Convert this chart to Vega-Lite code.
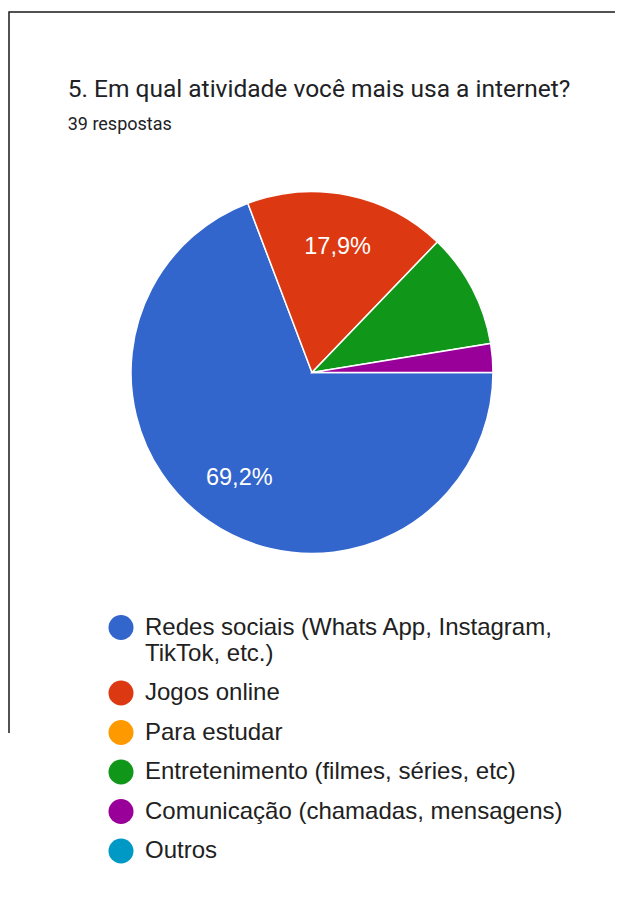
{
  "$schema": "https://vega.github.io/schema/vega-lite/v6.json",
  "width": 606,
  "height": 721,
  "autosize": {"type": "none"},
  "padding": {"left": 9, "top": 12, "right": 5, "bottom": 177},
  "background": "white",
  "view": {"stroke": "#1a1a1a", "strokeWidth": 1.5, "strokeDash": [606, 1327, 721]},
  "title": {
    "text": "5. Em qual atividade você mais usa a internet?",
    "subtitle": "39 respostas",
    "anchor": "start",
    "frame": "group",
    "offset": -123,
    "dx": 58.7,
    "font": "Roboto",
    "fontSize": 24.5,
    "fontWeight": "normal",
    "color": "#202124",
    "subtitleFont": "Roboto",
    "subtitleFontSize": 18,
    "subtitleColor": "#202124",
    "subtitlePadding": 14
  },
  "data": {
    "values": [
      {"atividade": "Redes sociais (Whats App, Instagram, TikTok, etc.)", "respostas": 27, "ordem": 1, "rotulo": "69,2%"},
      {"atividade": "Jogos online", "respostas": 7, "ordem": 2, "rotulo": "17,9%"},
      {"atividade": "Para estudar", "respostas": 0, "ordem": 3, "rotulo": ""},
      {"atividade": "Entretenimento (filmes, séries, etc)", "respostas": 4, "ordem": 4, "rotulo": ""},
      {"atividade": "Comunicação (chamadas, mensagens)", "respostas": 1, "ordem": 5, "rotulo": ""},
      {"atividade": "Outros", "respostas": 0, "ordem": 6, "rotulo": ""}
    ]
  },
  "layer": [
    {
      "transform": [{"filter": "datum.respostas > 0"}],
      "mark": {"type": "arc", "outerRadius": 181, "stroke": "white", "strokeWidth": 1.5},
      "encoding": {
        "theta": {"field": "respostas", "type": "quantitative", "stack": true, "scale": {"range": [1.5707963, 7.8539816]}},
        "order": {"field": "ordem", "type": "quantitative"},
        "color": {
          "field": "atividade",
          "type": "nominal",
          "scale": {
            "domain": ["Redes sociais (Whats App, Instagram, TikTok, etc.)", "Jogos online", "Para estudar", "Entretenimento (filmes, séries, etc)", "Comunicação (chamadas, mensagens)", "Outros"],
            "range": ["#3366CC", "#DC3912", "#FF9900", "#109618", "#990099", "#0099C6"]
          },
          "legend": {
            "title": null,
            "orient": "none",
            "legendX": 99.5,
            "legendY": 603,
            "direction": "vertical",
            "padding": 0,
            "symbolType": "circle",
            "symbolSize": 625,
            "symbolStrokeWidth": 0,
            "symbolOpacity": 1,
            "labelFont": "Liberation Sans",
            "labelFontSize": 24,
            "labelColor": "#212121",
            "labelLimit": 1000,
            "labelOffset": 11.5,
            "labelBaseline": "middle",
            "rowPadding": 14.5,
            "labelExpr": "datum.label == 'Redes sociais (Whats App, Instagram, TikTok, etc.)' ? ['Redes sociais (Whats App, Instagram,', 'TikTok, etc.)'] : datum.label"
          }
        }
      }
    },
    {
      "transform": [{"filter": "datum.respostas > 0"}],
      "mark": {"type": "text", "radius": 128, "font": "Liberation Sans", "fontSize": 23.5, "fill": "white"},
      "encoding": {
        "theta": {"field": "respostas", "type": "quantitative", "stack": true},
        "order": {"field": "ordem", "type": "quantitative"},
        "detail": {"field": "atividade", "type": "nominal"},
        "text": {"field": "rotulo", "type": "nominal"}
      }
    }
  ]
}
